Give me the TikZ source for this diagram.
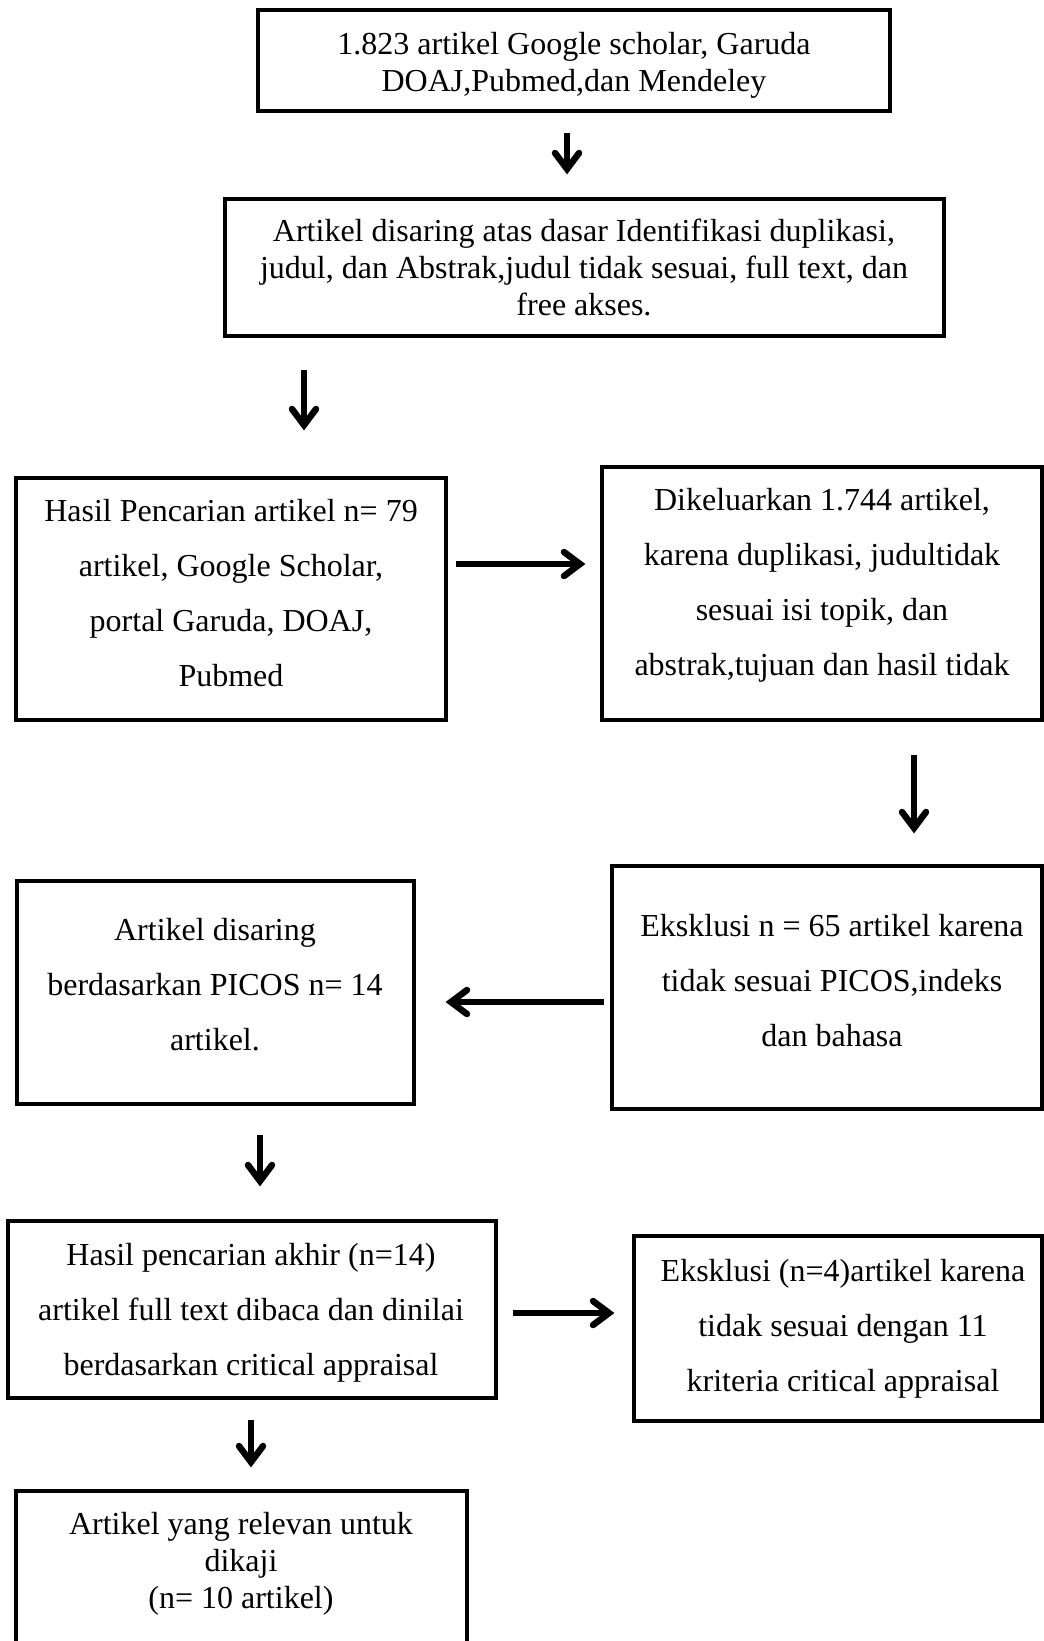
\documentclass[tikz,border=0pt]{standalone}
\usepackage{fontspec}
\setmainfont{Liberation Serif}
\usetikzlibrary{arrows.meta}
\tikzset{
  boxst/.style={draw=black, line width=4.8pt, fill=none, inner sep=0pt},
  txt/.style={align=center, inner sep=0pt, font=\fontsize{32}{37}\selectfont},
  txtd/.style={align=center, inner sep=0pt, font=\fontsize{32}{55}\selectfont},
  arr/.style={line width=6.5pt},
  headst/.style={line width=6.5pt, line join=miter, line cap=round}
}
\newcommand\mychev[2]{\draw[headst, shift={(#1)}, rotate=#2] (-22,-12) -- (-6,0) -- (-22,12);}
\begin{document}
\begin{tikzpicture}[x=1pt, y=-1pt]
\clip (0,0) rectangle (1044,1641);
\fill[white] (0,0) rectangle (1044,1641);
% boxes
\node[boxst, minimum width=632pt, minimum height=101pt] (b1) at (574,60.5) {};
\node[txt] (t1) at (574,65) {1.823 artikel Google scholar, Garuda\\DOAJ,Pubmed,dan Mendeley};
\node[boxst, minimum width=719pt, minimum height=137pt] (b2) at (584.5,267.5) {};
\node[txt] (t2) at (584,267) {Artikel disaring atas dasar Identifikasi duplikasi,\\judul, dan Abstrak,judul tidak sesuai, full text, dan\\free akses.};
\node[boxst, minimum width=430pt, minimum height=242pt] (b3) at (231,599) {};
\node[txtd] (t3) at (231,593) {Hasil Pencarian artikel n= 79\\artikel, Google Scholar,\\portal Garuda, DOAJ,\\Pubmed};
\node[boxst, minimum width=440pt, minimum height=253pt] (b4) at (822,593.5) {};
\node[txtd] (t4) at (822,585) {Dikeluarkan 1.744 artikel,\\karena duplikasi, judultidak\\sesuai isi topik, dan\\abstrak,tujuan dan hasil tidak};
\node[boxst, minimum width=430pt, minimum height=243pt] (b5) at (827,987.5) {};
\node[txtd] (t5) at (832,981) {Eksklusi n = 65 artikel karena\\tidak sesuai PICOS,indeks\\dan bahasa};
\node[boxst, minimum width=397pt, minimum height=223pt] (b6) at (215.5,992.5) {};
\node[txtd] (t6) at (215,985) {Artikel disaring\\berdasarkan PICOS n= 14\\artikel.};
\node[boxst, minimum width=488pt, minimum height=177pt] (b7) at (252,1309.5) {};
\node[txtd] (t7) at (251,1313) {Hasil pencarian akhir (n=14)\\artikel full text dibaca dan dinilai\\berdasarkan critical appraisal};
\node[boxst, minimum width=408pt, minimum height=185pt] (b8) at (838,1328.5) {};
\node[txtd] (t8) at (843,1329) {Eksklusi (n=4)artikel karena\\tidak sesuai dengan 11\\kriteria critical appraisal};
\node[boxst, minimum width=451pt, minimum height=240pt] (b9) at (241.5,1611) {};
\node[txt] (t9) at (241,1564) {Artikel yang relevan untuk\\dikaji\\(n= 10 artikel)};
% arrow end points
\coordinate (a1s) at (567,133); \coordinate (a1e) at (567,175);
\coordinate (a2s) at (304,370); \coordinate (a2e) at (304,431);
\coordinate (a3s) at (456,564); \coordinate (a3e) at (586,564);
\coordinate (a4s) at (914,755); \coordinate (a4e) at (914,834);
\coordinate (a5s) at (604,1002); \coordinate (a5e) at (445,1002);
\coordinate (a6s) at (260,1135); \coordinate (a6e) at (260,1187);
\coordinate (a7s) at (513,1313); \coordinate (a7e) at (615,1313);
\coordinate (a8s) at (251,1420); \coordinate (a8e) at (251,1468);
\draw[arr] (a1s) -- ([yshift=8pt]a1e); \mychev{a1e}{-90}
\draw[arr] (a2s) -- ([yshift=8pt]a2e); \mychev{a2e}{-90}
\draw[arr] (a3s) -- ([xshift=-8pt]a3e); \mychev{a3e}{0}
\draw[arr] (a4s) -- ([yshift=8pt]a4e); \mychev{a4e}{-90}
\draw[arr] (a5s) -- ([xshift=8pt]a5e); \mychev{a5e}{180}
\draw[arr] (a6s) -- ([yshift=8pt]a6e); \mychev{a6e}{-90}
\draw[arr] (a7s) -- ([xshift=-8pt]a7e); \mychev{a7e}{0}
\draw[arr] (a8s) -- ([yshift=8pt]a8e); \mychev{a8e}{-90}
\end{tikzpicture}
\end{document}
